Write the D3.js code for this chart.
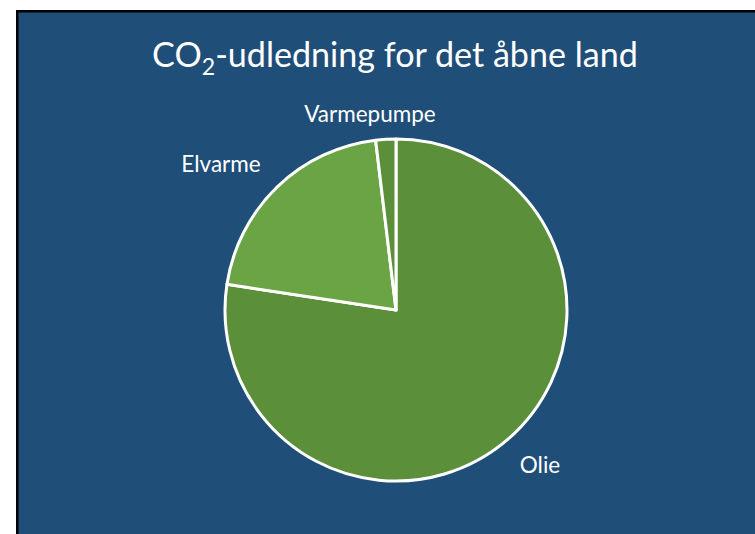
<!DOCTYPE html>
<html><head><meta charset="utf-8">
<script src="https://cdn.jsdelivr.net/npm/d3@7"></script>
<style>html,body{margin:0;padding:0;background:#fff;}svg{display:block;}</style>
</head><body>
<svg id="c" width="755" height="534"></svg>
<script>
const categories = ["Olie", "Elvarme", "Varmepumpe"];
const values = [77.4, 20.7, 1.9];
const colors = ["#5B8F3A", "#6AA444", "#5B8F3A"];
const titleMain = "CO";
const titleSub = "2";
const titleRest = "-udledning for det åbne land";

const svg = d3.select("#c");
svg.append("rect").attr("x", 16).attr("y", 10).attr("width", 740).attr("height", 530).attr("fill", "#000");
svg.append("rect").attr("x", 18.5).attr("y", 12.5).attr("width", 740).attr("height", 530).attr("fill", "#1F4E79");

const title = svg.append("text").attr("x", 395).attr("y", 67)
  .attr("text-anchor", "middle").attr("fill", "#fff")
  .style("font-family", "Lato, 'Open Sans', sans-serif").style("font-size", "31px");
title.append("tspan").text(titleMain);
title.append("tspan").attr("dy", 8).style("font-size", "21px").text(titleSub);
title.append("tspan").attr("dy", -8).text(titleRest);
const tw = title.node().getComputedTextLength();
const s = 486 / tw;
title.style("font-size", (31 * s) + "px");
title.select("tspan:nth-child(2)").style("font-size", (21 * s) + "px");

const cx = 396, cy = 310, r = 171;
const data = categories.map((c, i) => ({ cat: c, value: values[i], color: colors[i] }));
const pie = d3.pie().value(d => d.value).sort(null);
const arc = d3.arc().innerRadius(0).outerRadius(r);
const g = svg.append("g").attr("transform", `translate(${cx},${cy})`);
const arcs = pie(data);
g.selectAll("path").data(arcs).join("path")
  .attr("d", arc).attr("fill", d => d.data.color)
  .attr("stroke", "#fff").attr("stroke-width", 3).attr("stroke-linejoin", "round");

const labelPos = [[540, 473], [221, 172], [370, 122]];
const lab = svg.append("g").style("font-family", "Lato, 'Open Sans', sans-serif").style("font-size", "22.5px").attr("fill", "#fff");
arcs.forEach((a, i) => {
  lab.append("text")
    .attr("x", labelPos[i][0]).attr("y", labelPos[i][1])
    .attr("text-anchor", "middle").text(a.data.cat);
});
</script>
</body></html>
